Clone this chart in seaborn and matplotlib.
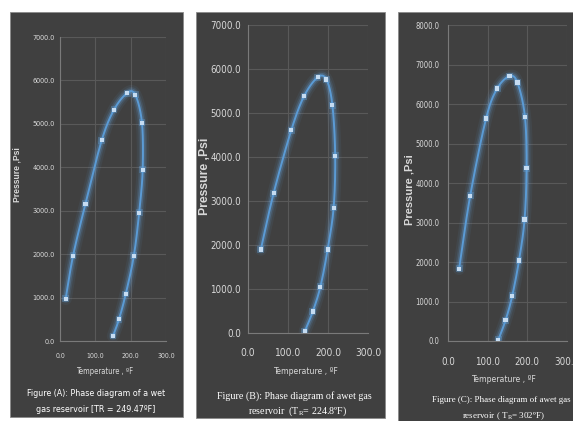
import numpy as np
import matplotlib
matplotlib.use('Agg')
import matplotlib.pyplot as plt
from matplotlib.patches import Rectangle
import seaborn as sns

# Phase envelope readings (temperature degF, pressure psi)
TEMP_A = [16, 37, 72, 118, 153, 190, 213, 232, 234, 224, 209, 186, 167, 150]
PRES_A = [970, 1963, 3158, 4620, 5327, 5708, 5670, 5023, 3942, 2953, 1963, 1080, 502, 114]

TEMP_B = [32, 64, 108, 140, 174, 196, 211, 218, 214, 199, 181, 162, 142]
PRES_B = [1896, 3175, 4605, 5380, 5809, 5763, 5176, 4025, 2844, 1896, 1053, 489, 38]

TEMP_C = [28, 56, 96, 124, 155, 175, 194, 198, 193, 179, 162, 145, 127]
PRES_C = [1827, 3680, 5634, 6392, 6703, 6543, 5676, 4371, 3074, 2038, 1145, 522, 34]

X_TICKS = [0, 100, 200, 300]
Y_TICKS_AB = [0, 1000, 2000, 3000, 4000, 5000, 6000, 7000]
Y_TICKS_C = [0, 1000, 2000, 3000, 4000, 5000, 6000, 7000, 8000]

W, H = 573, 421
BG = '#404040'
GRID = '#595959'
TXT = '#d9d9d9'
LINE = '#5b9bd5'
GLOW = '#6cb8ff'
MARK = '#c5dcf2'


def fx(px):
    return px / W


def fy(py):
    return 1 - py / H


def smooth(xs, ys, steps=20):
    # Catmull-Rom curve through the points, like Excel's smoothed line
    p = np.column_stack([xs, ys]).astype(float)
    p = np.vstack([2 * p[0] - p[1], p, 2 * p[-1] - p[-2]])
    t = np.linspace(0, 1, steps, endpoint=False)[:, None]
    segs = []
    for i in range(1, len(p) - 2):
        p0, p1, p2, p3 = p[i - 1], p[i], p[i + 1], p[i + 2]
        segs.append(0.5 * (2 * p1 + (-p0 + p2) * t
                           + (2 * p0 - 5 * p1 + 4 * p2 - p3) * t ** 2
                           + (-p0 + 3 * p1 - 3 * p2 + p3) * t ** 3))
    segs.append(p[-2][None])
    c = np.vstack(segs)
    return c[:, 0], c[:, 1]


def draw_panel(fig, plot_px, box, temps, pres, yticks, xsize, ysize, xpad, ypad):
    # plot_px = (left, top, right, bottom) of the plot area in pixels
    x0, y0, x1, y1 = box
    fig.patches.append(Rectangle((fx(x0), fy(y1)), fx(x1 - x0), (y1 - y0) / H,
                                 transform=fig.transFigure, facecolor=BG,
                                 edgecolor='#8a8a8a', linewidth=0.6, zorder=-10))
    l, t, r, b = plot_px
    ax = fig.add_axes([fx(l), fy(b), fx(r - l), (b - t) / H])
    ax.set_facecolor('none')
    sx, sy = smooth(temps, pres)
    for lw, a in [(9, 0.06), (6, 0.1), (3.8, 0.2)]:
        ax.plot(sx, sy, color=GLOW, lw=lw, alpha=a, solid_capstyle='round')
    sns.lineplot(x=sx, y=sy, sort=False, color=LINE, linewidth=1.4, ax=ax)
    sns.scatterplot(x=temps, y=pres, marker='s', s=24, color=GLOW, alpha=0.25,
                    edgecolor='none', ax=ax)
    sns.scatterplot(x=temps, y=pres, marker='s', s=9, color=MARK,
                    edgecolor='none', ax=ax, zorder=5)
    ax.set_xlim(0, 300)
    ax.set_ylim(0, yticks[-1])
    ax.set_xticks(X_TICKS)
    ax.set_yticks(yticks)
    ax.set_xticklabels([f'{v:.1f}' for v in X_TICKS], fontsize=xsize,
                       family='DejaVu Sans', stretch='condensed')
    ax.set_yticklabels([f'{v:.1f}' for v in yticks], fontsize=ysize,
                       family='DejaVu Sans', stretch='condensed')
    ax.tick_params(axis='x', length=0, pad=xpad, colors=TXT)
    ax.tick_params(axis='y', length=0, pad=ypad, colors=TXT)
    ax.grid(True, color=GRID, linewidth=0.8)
    ax.set_axisbelow(True)
    for side in ['top', 'right']:
        ax.spines[side].set_visible(False)
    for side in ['left', 'bottom']:
        ax.spines[side].set_color('#7a7a7a')
        ax.spines[side].set_linewidth(0.8)
    ax.set_xlabel('')
    ax.set_ylabel('')
    return ax


sns.set_style('white')
plt.rcParams['font.family'] = ['DejaVu Sans']
plt.rcParams['mathtext.fontset'] = 'custom'
plt.rcParams['mathtext.rm'] = 'Liberation Serif'
plt.rcParams['mathtext.it'] = 'Liberation Serif'

fig = plt.figure(figsize=(W / 100, H / 100), dpi=100)
fig.patch.set_facecolor('white')

# Panel A
draw_panel(fig, (60, 37, 166, 341), (10, 12, 183, 417),
           TEMP_A, PRES_A, Y_TICKS_AB, 5, 5.2, 8.5, 4)
# Panel B
draw_panel(fig, (248, 25, 368, 333), (196, 12, 385, 418),
           TEMP_B, PRES_B, Y_TICKS_AB, 7.3, 7, 10.5, 5)
# Panel C
draw_panel(fig, (448, 25, 567, 341), (398, 12, 573, 421),
           TEMP_C, PRES_C, Y_TICKS_C, 7, 5.5, 11.5, 6)

ylab = dict(rotation=90, ha='center', va='center', color=TXT,
            fontweight='bold', family=['Liberation Sans', 'DejaVu Sans'])
fig.text(fx(17), fy(175), 'Pressure ,Psi', fontsize=6.2, **ylab)
fig.text(fx(205), fy(176), 'Pressure ,Psi', fontsize=8.8, **ylab)
fig.text(fx(409), fy(190), 'Pressure ,Psi', fontsize=8, **ylab)

xlab = dict(ha='center', va='center', color=TXT,
            family='DejaVu Sans', stretch='condensed')
fig.text(fx(105), fy(372), 'Temperature , ºF', fontsize=5.5, **xlab)
fig.text(fx(305), fy(372), 'Temperature , ºF', fontsize=6.2, **xlab)
fig.text(fx(503), fy(379), 'Temperature , ºF', fontsize=6.2, **xlab)

tA = dict(ha='center', va='center', color='white', fontsize=6.4,
          family='DejaVu Sans', stretch='condensed')
fig.text(fx(96), fy(393), 'Figure (A): Phase diagram of a wet', **tA)
fig.text(fx(96), fy(410), 'gas reservoir [TR = 249.47ºF]', **tA)

tS = dict(va='center', color='white', family=['Liberation Serif', 'DejaVu Serif'])
fig.text(fx(294), fy(396), 'Figure (B): Phase diagram of awet gas',
         ha='center', fontsize=7.2, **tS)
fig.text(fx(298), fy(411), r'reservoir  (T$_{\mathrm{R}}$= 224.8ºF)',
         ha='center', fontsize=7.2, **tS)
fig.text(fx(432), fy(400), 'Figure (C): Phase diagram of awet gas',
         ha='left', fontsize=6.5, **tS)
fig.text(fx(503), fy(416), r'reservoir ( T$_{\mathrm{R}}$= 302ºF)',
         ha='center', fontsize=6.5, **tS)

fig.savefig('out.png', dpi=100, facecolor='white')
